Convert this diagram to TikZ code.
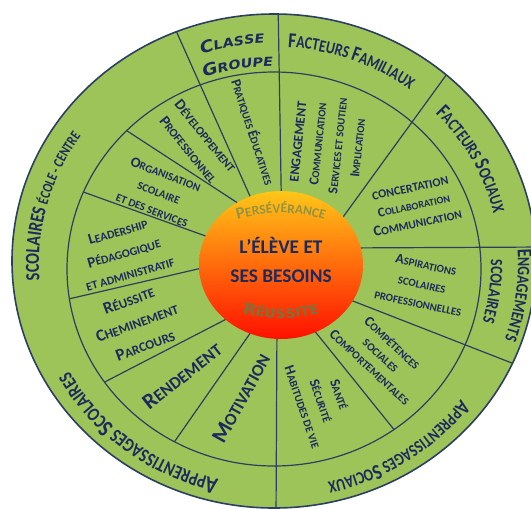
\documentclass[tikz,border=0pt]{standalone}
\usepackage{fontspec}
\setmainfont{Carlito}
\newfontfamily\narrowfont[FakeStretch=0.8]{Carlito}
\newfontfamily\widefont[FakeStretch=1.15,FakeSlant=0.18]{DejaVu Sans}
\newfontfamily\broadfont[FakeStretch=1.1]{DejaVu Sans}
\usetikzlibrary{decorations.text}

\definecolor{leaf}{RGB}{156,196,89}
\definecolor{ink}{RGB}{28,42,94}
\definecolor{rule}{RGB}{44,62,98}
\definecolor{olive}{RGB}{146,148,62}
\definecolor{bark}{RGB}{124,114,60}
\definecolor{sunA}{RGB}{255,198,24}
\definecolor{sunB}{RGB}{255,140,0}
\definecolor{sunC}{RGB}{255,16,0}

\newcommand\sz[2]{{\fontsize{#1}{1}\selectfont#2}}
\newcommand\bnd[1]{\narrowfont\bfseries\color{ink}\fontsize{#1}{#1}\selectfont}
\newcommand\wde[1]{\widefont\bfseries\color{ink}\fontsize{#1}{#1}\selectfont}

\tikzset{
  spoke/.style={draw=rule, line width=0.9},
  lbl/.style 2 args={text=ink, inner sep=0pt, align=center, font=\bfseries\fontsize{#1}{#2}\selectfont},
  band/.style={decorate, decoration={text along path, text align=center, text={#1}}}
}

\begin{document}
\begin{tikzpicture}[x=0.75pt,y=0.75pt,yscale=-1,xscale=1]
\useasboundingbox (0,0) rectangle (531,508);
\clip (0,0) rectangle (531,508);

%Shape: Ellipse [outer wheel]
\fill[leaf] (274,261) ellipse [x radius=262, y radius=247];
%Shape: Ellipse [middle ring]
\draw[rule, line width=0.9] (274,269) ellipse [x radius=207, y radius=197];

%Straight Lines: spokes out to the rim
\begin{scope}
\clip (274,261) ellipse [x radius=262, y radius=247];
\foreach \p/\q in {{282,240}/{278,0}, {262,223}/{169,15}, {330,235}/{460,56},
                   {340,248}/{545,247}, {335,294}/{540,374}, {277,320}/{276,520}}
  \draw[spoke] (\p) -- (\q);
\end{scope}
%Straight Lines: spokes of the inner ring
\begin{scope}
\clip (274,269) ellipse [x radius=207, y radius=197];
\foreach \p/\q in {{250,211}/{118,125}, {225,243}/{75,189}, {215,265}/{60,301},
                   {240,312}/{95,387}, {258,322}/{168,451}, {305,319}/{400,437}}
  \draw[spoke] (\p) -- (\q);
\end{scope}

%Shape: Circle [centre]
\shade[top color=sunA, middle color=sunB, bottom color=sunC] (281,265) ellipse [x radius=82, y radius=74];
%Shape: Ellipse [rim]
\draw[rule, line width=1.2] (274,261) ellipse [x radius=262, y radius=247];

% Text Node
\node[lbl={14.5}{21.75}] (eleve) at (281,260) {L’ÉLÈVE ET\\SES BESOINS};
% Arc Text
\path[band={|\bfseries\color{olive}\fontsize{12.5}{12.5}\selectfont|P|\bfseries\color{olive}\fontsize{10}{10}\selectfont|ERSÉVÉRANCE}]
  (281,363) ++(-115:150) arc[start angle=-115, end angle=-65, radius=150];
% Arc Text
\path[band={|\broadfont\bfseries\color{bark}\fontsize{11.5}{11.5}\selectfont|R|\broadfont\bfseries\color{bark}\fontsize{9.5}{9.5}\selectfont|ÉUSSITE}]
  (281,168) ++(115:150) arc[start angle=115, end angle=65, radius=150];

% Text Node
\node[lbl={8}{10}, rotate=-72] (pratiques) at (253,132) {\sz{10.4}{P}RATIQUES \sz{10.4}{É}DUCATIVES};
% Text Node
\node[lbl={7.9}{15}, rotate=84] (engagement) at (328,145)
  {\sz{10}{ENGAGEMENT}\\\sz{10.3}{C}OMMUNICATION\\\sz{10.3}{S}ERVICES ET SOUTIEN\\\sz{10.3}{I}MPLICATION};
% Text Node
\node[lbl={7.6}{13.5}, rotate=12] (concertation) at (414,206)
  {\sz{9}{CONCERTATION}\\\sz{9.9}{C}OLLABORATION\\\sz{11}{C}\sz{8.6}{OMMUNICATION}};
% Text Node
\node[lbl={8.1}{14.6}, rotate=-12] (aspirations) at (422,284)
  {\sz{10.5}{A}SPIRATIONS\\SCOLAIRES\\PROFESSIONNELLES};
% Text Node
\node[lbl={8.3}{12.4}, rotate=-43] (competences) at (381,355)
  {\sz{10.8}{C}OMPÉTENCES\\SOCIALES\\\sz{10.8}{C}OMPORTEMENTALES};
% Text Node
\node[lbl={8.2}{14.5}, rotate=-71] (sante) at (321,401)
  {\sz{10.7}{S}ANTÉ\\\sz{10.7}{S}ÉCURITÉ\\\sz{10.7}{H}ABITUDES DE VIE};
% Text Node
\node[lbl={12.8}{15}, rotate=61] (motivation) at (241,398) {\sz{16.6}{M}OTIVATION};
% Text Node
\node[lbl={12.8}{15}, rotate=38] (rendement) at (182,376) {\sz{16.6}{R}ENDEMENT};
% Text Node
\node[lbl={9.8}{18}, rotate=20] (reussite) at (137,323)
  {\sz{12.7}{R}ÉUSSITE\\\sz{12.7}{C}HEMINEMENT\\\sz{12.7}{P}ARCOURS};
% Text Node
\node[lbl={8.8}{16.5}, rotate=16] (leadership) at (124,253)
  {\sz{11.4}{L}EADERSHIP\\\sz{11.4}{P}ÉDAGOGIQUE\\ET ADMINISTRATIF};
% Text Node
\node[lbl={8.3}{14.3}, rotate=-21] (organisation) at (159,192)
  {\sz{10.8}{O}RGANISATION\\SCOLAIRE\\ET DES SERVICES};
% Text Node
\node[lbl={8.8}{16.5}, rotate=-51] (developpement) at (197,143)
  {\sz{11.4}{D}ÉVELOPPEMENT\\\sz{11.4}{P}ROFESSIONNEL};

% Arc Text [band]
\path[band={|\wde{12.3}|C|\wde{9.3}|LASSE}]
  (274,264) ++(229.4:232 and 221) arc[start angle=229.4, end angle=289.4, x radius=232, y radius=221];
\path[band={|\wde{12.3}|G|\wde{9.3}|ROUPE}]
  (274,264) ++(229.7:208 and 198) arc[start angle=229.7, end angle=289.7, x radius=208, y radius=198];
\path[band={|\bnd{16}|F|\bnd{13}|ACTEURS |\bnd{16}|F|\bnd{13}|AMILIAUX}]
  (274,264) ++(-109.7:228 and 217) arc[start angle=-109.7, end angle=-29.7, x radius=228, y radius=217];
\path[band={|\bnd{16}|F|\bnd{13}|ACTEURS |\bnd{16}|S|\bnd{13}|OCIAUX}]
  (274,264) ++(-68.6:226 and 215) arc[start angle=-68.6, end angle=11.4, x radius=226, y radius=215];
\path[band={|\bnd{16}|E|\bnd{13}|NGAGEMENTS}]
  (274,264) ++(-32.5:244 and 232) arc[start angle=-32.5, end angle=47.5, x radius=244, y radius=232];
\path[band={|\bnd{13}|SCOLAIRES}]
  (274,264) ++(-32.7:217 and 207) arc[start angle=-32.7, end angle=47.3, x radius=217, y radius=207];
\path[band={|\bnd{16}|A|\bnd{13}|PPRENTISSAGES |\bnd{16}|S|\bnd{13}|OCIAUX}]
  (274,264) ++(16.7:235 and 224) arc[start angle=16.7, end angle=96.7, x radius=235, y radius=224];
\path[band={|\bnd{18}|A|\bnd{14.5}|PPRENTISSAGES |\bnd{18}|S|\bnd{14.5}|COLAIRES}]
  (274,264) ++(78:234 and 222) arc[start angle=78, end angle=178, x radius=234, y radius=222];
\path[band={|\bnd{15}|SCOLAIRES |\bnd{11}|ÉCOLE - CENTRE}]
  (274,264) ++(145:235 and 224) arc[start angle=145, end angle=245, x radius=235, y radius=224];
\end{tikzpicture}
\end{document}
